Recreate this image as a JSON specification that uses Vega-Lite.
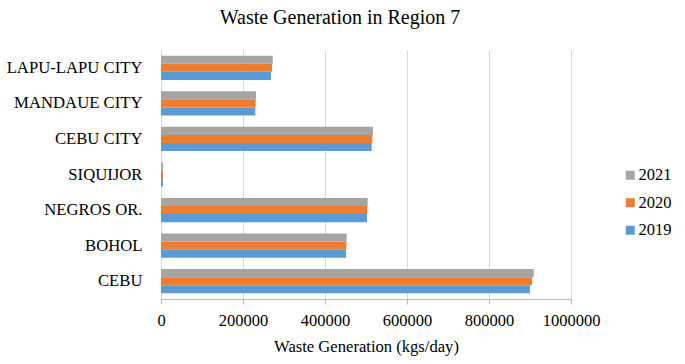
{
  "$schema": "https://vega.github.io/schema/vega-lite/v6.json",
  "autosize": "none",
  "width": 410,
  "height": 249,
  "padding": {"left": 161, "top": 50, "right": 114, "bottom": 65},
  "background": "white",
  "config": {
    "font": "'Times New Roman', 'Liberation Serif', serif",
    "view": {"stroke": null}
  },
  "title": {
    "text": "Waste Generation in Region 7",
    "font": "'Times New Roman', 'Liberation Serif', serif",
    "fontSize": 20,
    "fontWeight": "normal",
    "color": "#000000",
    "anchor": "middle",
    "dx": -26,
    "offset": 22
  },
  "data": {
    "values": [
      {"city": "LAPU-LAPU CITY", "year": "2019", "value": 268300},
      {"city": "LAPU-LAPU CITY", "year": "2020", "value": 270700},
      {"city": "LAPU-LAPU CITY", "year": "2021", "value": 272400},
      {"city": "MANDAUE CITY", "year": "2019", "value": 230000},
      {"city": "MANDAUE CITY", "year": "2020", "value": 230900},
      {"city": "MANDAUE CITY", "year": "2021", "value": 231700},
      {"city": "CEBU CITY", "year": "2019", "value": 513800},
      {"city": "CEBU CITY", "year": "2020", "value": 515400},
      {"city": "CEBU CITY", "year": "2021", "value": 517000},
      {"city": "SIQUIJOR", "year": "2019", "value": 4800},
      {"city": "SIQUIJOR", "year": "2020", "value": 4900},
      {"city": "SIQUIJOR", "year": "2021", "value": 5000},
      {"city": "NEGROS OR.", "year": "2019", "value": 502400},
      {"city": "NEGROS OR.", "year": "2020", "value": 503000},
      {"city": "NEGROS OR.", "year": "2021", "value": 504100},
      {"city": "BOHOL", "year": "2019", "value": 451300},
      {"city": "BOHOL", "year": "2020", "value": 452000},
      {"city": "BOHOL", "year": "2021", "value": 452900},
      {"city": "CEBU", "year": "2019", "value": 900000},
      {"city": "CEBU", "year": "2020", "value": 904900},
      {"city": "CEBU", "year": "2021", "value": 909000}
    ]
  },
  "mark": {"type": "bar"},
  "encoding": {
    "y": {
      "field": "city",
      "type": "nominal",
      "sort": ["LAPU-LAPU CITY", "MANDAUE CITY", "CEBU CITY", "SIQUIJOR", "NEGROS OR.", "BOHOL", "CEBU"],
      "scale": {"paddingInner": 0.32, "paddingOuter": 0.16},
      "axis": {
        "title": null,
        "domain": false,
        "ticks": false,
        "labelFont": "'Times New Roman', 'Liberation Serif', serif",
        "labelFontSize": 16.7,
        "labelColor": "#000000",
        "labelPadding": 19
      }
    },
    "yOffset": {
      "field": "year",
      "type": "nominal",
      "sort": ["2021", "2020", "2019"]
    },
    "x": {
      "field": "value",
      "type": "quantitative",
      "scale": {"domain": [0, 1000000], "nice": false},
      "axis": {
        "title": "Waste Generation (kgs/day)",
        "titleFont": "'Times New Roman', 'Liberation Serif', serif",
        "titleFontSize": 16.6,
        "titleFontWeight": "normal",
        "titleColor": "#000000",
        "titlePadding": 10,
        "values": [0, 200000, 400000, 600000, 800000, 1000000],
        "format": "d",
        "labelFont": "'Times New Roman', 'Liberation Serif', serif",
        "labelFontSize": 16.5,
        "labelColor": "#000000",
        "labelPadding": 8,
        "labelFlush": false,
        "grid": true,
        "gridColor": "#D9D9D9",
        "gridWidth": 1,
        "domainColor": "#9DC3E6",
        "tickColor": "#9DC3E6",
        "tickSize": 5
      }
    },
    "color": {
      "field": "year",
      "type": "nominal",
      "scale": {
        "domain": ["2021", "2020", "2019"],
        "range": ["#A5A5A5", "#ED7D31", "#5B9BD5"]
      },
      "legend": {
        "title": null,
        "orient": "none",
        "legendX": 461,
        "legendY": 117,
        "symbolType": "square",
        "symbolSize": 81,
        "symbolStrokeWidth": 0,
        "labelFont": "'Times New Roman', 'Liberation Serif', serif",
        "labelFontSize": 16.5,
        "labelColor": "#000000",
        "labelOffset": 0,
        "rowPadding": 10.5
      }
    }
  }
}
